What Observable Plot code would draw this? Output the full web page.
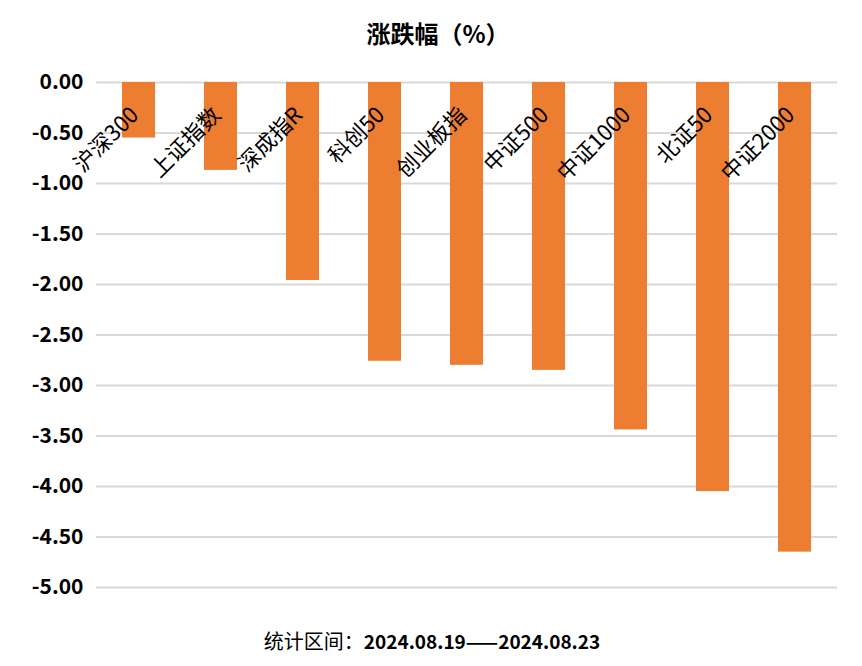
<!DOCTYPE html>
<html>
<head>
<meta charset="utf-8">
<script src="https://cdn.jsdelivr.net/npm/d3@7"></script>
<script src="https://cdn.jsdelivr.net/npm/@observablehq/plot@0.6"></script>
<style>
  html, body { margin: 0; padding: 0; background: #fff; }
  body { width: 862px; height: 666px; overflow: hidden; font-family: "Noto Sans CJK SC", "Noto Sans", sans-serif; }
  #title { height: 62px; line-height: 66px; text-align: center; font-size: 24px; font-weight: bold; color: #000; padding-left: 14px; box-sizing: border-box; }
  #caption { text-align: center; font-size: 20px; color: #000; padding-top: 28px; line-height: 24px; padding-left: 2px; }
  #caption b { font-weight: bold; font-size: 19px; }
  #chart svg { display: block; }
</style>
</head>
<body>
<div id="title">涨跌幅（%）</div>
<div id="chart"></div>
<div id="caption"><span>统计区间：</span><b>2024.08.19——2024.08.23</b></div>
<script>
const categories = ["沪深300", "上证指数", "深成指R", "科创50", "创业板指", "中证500", "中证1000", "北证50", "中证2000"];
const changes = [-0.55, -0.87, -1.96, -2.76, -2.80, -2.85, -3.44, -4.05, -4.65];
const yTicks = [0, -0.5, -1, -1.5, -2, -2.5, -3, -3.5, -4, -4.5, -5];

const data = categories.map((name, i) => ({ name, value: changes[i] }));

const chart = Plot.plot({
  width: 862,
  height: 539,
  marginLeft: 96,
  marginRight: 25,
  marginTop: 20,
  marginBottom: 14,
  style: { fontFamily: '"Noto Sans CJK SC", "Noto Sans", sans-serif', background: "#fff" },
  x: { domain: categories, paddingInner: 0.6, paddingOuter: 0.3, axis: null },
  y: { domain: [-5, 0], ticks: yTicks, tickFormat: d => d.toFixed(2), label: null },
  marks: [
    Plot.gridY(yTicks, { stroke: "#d9d9d9", strokeOpacity: 1, strokeWidth: 2 }),
    Plot.axisY(yTicks, { tickSize: 0, tickPadding: 13, fontSize: 21, fontWeight: "bold", fill: "#000", tickFormat: d => d.toFixed(2), label: null }),
    Plot.barY(data, { x: "name", y1: 0, y2: "value", fill: "#ED7D31" }),
    Plot.text(data, { x: "name", y: () => 0, text: "name", rotate: -45, textAnchor: "end", lineAnchor: "middle", dx: -4, dy: 29, fontSize: 22, fill: "#000" })
  ]
});
document.getElementById("chart").appendChild(chart);
</script>
</body>
</html>
